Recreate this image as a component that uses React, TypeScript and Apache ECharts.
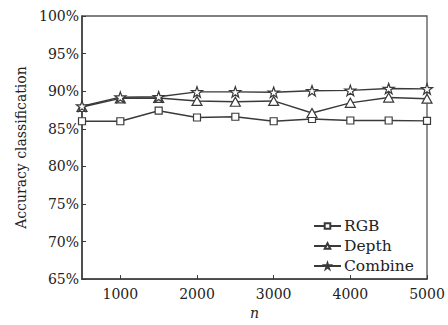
import React, { useEffect, useRef } from "react";
import * as echarts from "echarts";

const nValues = [500, 1000, 1500, 2000, 2500, 3000, 3500, 4000, 4500, 5000];
const rgb = [86.0, 86.0, 87.4, 86.5, 86.6, 86.0, 86.3, 86.1, 86.1, 86.05];
const depth = [87.9, 89.05, 89.1, 88.7, 88.6, 88.7, 87.1, 88.45, 89.15, 89.0];
const combine = [88.0, 89.2, 89.25, 89.9, 89.9, 89.85, 90.05, 90.1, 90.35, 90.3];
const xTickLabels = [1000, 2000, 3000, 4000, 5000];

const STAR =
  "path://M50,0 L61.8,35 L98,35 L68.8,57 L79.4,92 L50,70.5 L20.6,92 L31.2,57 L2,35 L38.2,35 Z";

const FONT = "DejaVu Serif";
const INK = "#3a3a3a";

export default function App() {
  const ref = useRef<HTMLDivElement>(null);
  useEffect(() => {
    if (!ref.current) return;
    const chart = echarts.init(ref.current, undefined, { renderer: "svg" });
    const pair = (arr: number[]) => nValues.map((n, i) => [n, arr[i]]);
    const base = {
      type: "line",
      lineStyle: { color: INK, width: 1.4 },
      itemStyle: { color: "#fff", borderColor: INK, borderWidth: 1.2 },
      symbolKeepAspect: true,
    };
    chart.setOption({
      animation: false,
      backgroundColor: "#fff",
      grid: {
        left: 82,
        right: 21,
        top: 16,
        bottom: 38,
        show: true,
        borderColor: "#555",
        borderWidth: 1.3,
      },
      legend: {
        orient: "vertical",
        left: 308,
        top: 213,
        itemWidth: 27,
        itemHeight: 7,
        itemGap: 4,
        textStyle: { fontFamily: FONT, fontSize: 15.5, color: "#222", padding: [0, 0, 0, -2] },
        data: ["RGB", "Depth", "Combine"],
      },
      xAxis: {
        type: "value",
        min: 500,
        max: 5000,
        name: "n",
        nameLocation: "middle",
        nameGap: 26,
        nameTextStyle: { fontFamily: FONT, fontStyle: "italic", fontSize: 14, color: "#222" },
        axisLine: { lineStyle: { color: INK, width: 1.5 } },
        axisTick: { inside: true, length: 4, customValues: xTickLabels, lineStyle: { color: INK } },
        axisLabel: {
          customValues: xTickLabels,
          formatter: (v: number) => String(v),
          fontFamily: FONT,
          fontSize: 14,
          color: "#222",
          margin: 8,
        },
        splitLine: { show: false },
      },
      yAxis: {
        type: "value",
        min: 65,
        max: 100,
        interval: 5,
        name: "Accuracy classification",
        nameLocation: "middle",
        nameGap: 52,
        nameTextStyle: { fontFamily: FONT, fontSize: 14, color: "#222" },
        axisLine: { show: true, lineStyle: { color: INK, width: 1.5 } },
        axisTick: { show: true, inside: true, length: 4, lineStyle: { color: INK } },
        axisLabel: {
          formatter: "{value}%",
          fontFamily: FONT,
          fontSize: 14,
          color: "#222",
          margin: 3,
        },
        splitLine: { show: false },
      },
      series: [
        { ...base, name: "RGB", data: pair(rgb), symbol: "rect", symbolSize: 7 },
        { ...base, name: "Depth", data: pair(depth), symbol: "triangle", symbolSize: [10, 9] },
        { ...base, name: "Combine", data: pair(combine), symbol: STAR, symbolSize: 11 },
      ],
    });
    return () => chart.dispose();
  }, []);
  return <div ref={ref} style={{ width: 448, height: 325, position: "absolute", left: 0, top: 0 }} />;
}
